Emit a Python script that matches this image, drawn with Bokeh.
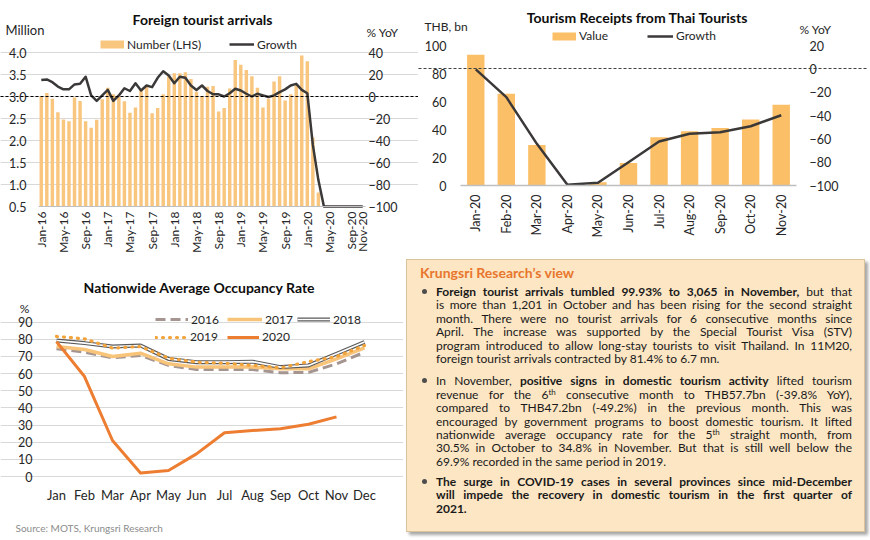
import math
from bokeh.plotting import figure
from bokeh.models import (Range1d, LinearAxis, FixedTicker, Label, Legend, LegendItem, Grid,
                          Div, PrintfTickFormatter, ColumnDataSource)
from bokeh.layouts import row, column
from bokeh.embed import file_html
from bokeh.resources import INLINE

FONT = "Lato"
TXT = "#262626"

# ---------------- data: foreign tourist arrivals ----------------
MONTHS = ["Jan", "Feb", "Mar", "Apr", "May", "Jun", "Jul", "Aug", "Sep", "Oct", "Nov", "Dec"]
arr_months = [m + "-" + y for y in ["16", "17", "18", "19", "20"] for m in MONTHS][:59]
arr_number = [3.00, 3.08, 2.95, 2.64, 2.48, 2.44, 2.98, 2.90, 2.44, 2.29, 2.47, 2.94,
              3.20, 3.05, 2.99, 2.89, 2.63, 2.75, 3.16, 3.24, 2.62, 2.74, 3.05, 3.46,
              3.53, 3.53, 3.55, 3.40, 3.11, 3.00, 3.22, 3.24, 2.66, 2.74, 3.18, 3.83,
              3.72, 3.60, 3.46, 3.20, 2.75, 2.95, 3.34, 3.46, 2.91, 3.05, 3.25, 3.93,
              3.80, 2.07, 0.82, 0.0, 0.0, 0.0, 0.0, 0.0, 0.0, 0.001, 0.003]
arr_growth = [15.0, 15.5, 13.0, 9.0, 6.5, 6.5, 11.0, 11.5, 18.0, 1.0, -4.0, 1.0,
              6.0, -4.0, 1.0, 7.5, 5.0, 12.0, 5.5, 10.0, 8.5, 17.0, 23.0, 19.0,
              12.0, 18.0, 17.0, 10.0, 6.0, 10.0, 5.0, 2.0, 2.0, 0.0, 3.0, 7.0,
              5.5, 2.5, 0.0, 2.5, 1.0, -0.5, 1.0, 4.0, 6.5, 10.0, 11.5, 6.0,
              3.0, -44.0, -76.0, -100.0, -100.0, -100.0, -100.0, -100.0, -100.0, -99.9, -99.9]
arr_tick_labels = ["Jan-16", "May-16", "Sep-16", "Jan-17", "May-17", "Sep-17", "Jan-18", "May-18",
                   "Sep-18", "Jan-19", "May-19", "Sep-19", "Jan-20", "May-20", "Sep-20", "Nov-20"]
arr_left_ticks = [0.5, 1.0, 1.5, 2.0, 2.5, 3.0, 3.5, 4.0]
arr_right_ticks = [-100, -80, -60, -40, -20, 0, 20, 40]

# ---------------- data: tourism receipts ----------------
rec_months = ["Jan-20", "Feb-20", "Mar-20", "Apr-20", "May-20", "Jun-20",
              "Jul-20", "Aug-20", "Sep-20", "Oct-20", "Nov-20"]
rec_value = [93.4, 65.5, 29.0, 0.4, 2.4, 16.0, 34.5, 38.8, 41.0, 47.2, 57.7]
rec_growth = [-0.5, -24.3, -64.3, -99.4, -97.7, -80.0, -62.3, -55.7, -54.3, -49.2, -39.8]
rec_left_ticks = [0, 20, 40, 60, 80, 100]
rec_right_ticks = [-100, -80, -60, -40, -20, 0, 20]

# ---------------- data: occupancy rate ----------------
occ_months = MONTHS
occ_2016 = [74.5, 72.5, 69.2, 70.6, 64.8, 62.4, 62.4, 62.4, 60.5, 60.7, 65.7, 72.5]
occ_2017 = [75.8, 74.1, 70.0, 71.9, 65.7, 63.8, 63.8, 63.8, 62.8, 62.8, 68.6, 75.0]
occ_2018 = [79.3, 77.8, 75.8, 76.4, 68.6, 66.7, 66.7, 67.0, 63.8, 64.8, 71.6, 78.4]
occ_2019 = [81.7, 80.3, 74.9, 75.8, 69.0, 66.7, 66.1, 64.8, 63.4, 67.0, 69.9, 76.4]
occ_2020 = [78.7, 58.3, 21.0, 2.0, 3.5, 13.2, 25.5, 26.8, 27.8, 30.5, 34.8]
occ_ticks = [0, 10, 20, 30, 40, 50, 60, 70, 80, 90]

# ---------------- text box ----------------
view_title = "Krungsri Research\u2019s view"
view_p1 = [
    "<b>Foreign tourist arrivals tumbled 99.93% to 3,065 in November,</b> but that",
    "is more than 1,201 in October and has been rising for the second straight",
    "month. There were no tourist arrivals for 6 consecutive months since",
    "April. The increase was supported by the Special Tourist Visa (STV)",
    "program introduced to allow long-stay tourists to visit Thailand. In 11M20,",
    "foreign tourist arrivals contracted by 81.4% to 6.7 mn.",
]
view_p2 = [
    "In November, <b>positive signs in domestic tourism activity</b> lifted tourism",
    "revenue for the 6<sup>th</sup> consecutive month to THB57.7bn (-39.8% YoY),",
    "compared to THB47.2bn (-49.2%) in the previous month. This was",
    "encouraged by government programs to boost domestic tourism. It lifted",
    "nationwide average occupancy rate for the 5<sup>th</sup> straight month, from",
    "30.5% in October to 34.8% in November. But that is still well below the",
    "69.9% recorded in the same period in 2019.",
]
view_p3 = [
    "<b>The surge in COVID-19 cases in several provinces since mid-December</b>",
    "<b>will impede the recovery in domestic tourism in the first quarter of</b>",
    "<b>2021.</b>",
]

BAR1 = "#F8C67E"
BAR2 = "#FBBF68"
LINE = "#3B3838"
C2016 = "#A59590"
C2017 = "#F8C47A"
C2018 = "#595959"
C2019 = "#F2A33A"
C2020 = "#ED7D31"


def ext_range(p0, p1, d0, d1, c0, c1):
    """Range whose values d0/d1 sit at pixels p0/p1 of a frame spanning pixels c0..c1."""
    k = (d1 - d0) / (p1 - p0)
    return Range1d(d0 + (c0 - p0) * k, d0 + (c1 - p0) * k)


def style_axis(ax, size="12px", standoff=8):
    ax.axis_line_color = None
    ax.major_tick_line_color = None
    ax.minor_tick_line_color = None
    ax.major_tick_out = 0
    ax.major_tick_in = 0
    ax.minor_tick_out = 0
    ax.minor_tick_in = 0
    ax.major_label_text_font = FONT
    ax.major_label_text_font_size = size
    ax.major_label_text_color = TXT
    ax.major_label_standoff = standoff
    return ax


class Canvas:
    def __init__(self, p, ox, oy, H):
        self.p, self.ox, self.oy, self.H = p, ox, oy, H

    def text(self, text, x, y, size, bold=False, align="left", color=TXT):
        self.p.add_layout(Label(x=x - self.ox, y=self.H - (y - self.oy), x_units="screen", y_units="screen",
                                text=text, text_font=FONT, text_font_size=f"{size}px",
                                text_font_style="bold" if bold else "normal",
                                text_align=align, text_baseline="middle", text_color=color))

    def legend(self, label, renderers, x, yc, gw):
        leg = Legend(items=[LegendItem(label=label, renderers=renderers)],
                     location=(x - self.ox, self.H - (yc - self.oy) - 8), orientation="horizontal",
                     padding=0, margin=0, spacing=0, glyph_width=gw, glyph_height=16,
                     label_height=16, label_standoff=3, label_text_font=FONT,
                     label_text_font_size="12px", label_text_color=TXT,
                     background_fill_alpha=0, border_line_alpha=0)
        self.p.add_layout(leg)


def base_fig(W, H, xr, yr):
    p = figure(width=W, height=H, x_range=xr, y_range=yr, output_backend="svg", toolbar_location=None,
               x_axis_location=None, y_axis_location=None, frame_align=False,
               min_border=0, min_border_left=0, min_border_right=0, min_border_top=0, min_border_bottom=0)
    p.title.visible = False
    p.outline_line_color = None
    p.border_fill_color = "white"
    p.background_fill_color = "white"
    p.xgrid.visible = False
    p.ygrid.visible = False
    return p


def swatch(p, color):
    # legend-only proxy: a thick line with no drawable point
    return p.line(x="x", y="y", source=ColumnDataSource(dict(x=[0.0], y=[float("nan")])),
                  line_color=color, line_width=8)


# ================= chart 1 : canvas (0,0) 418x258, plot area x 38..365, y 52..206 =================
W1, H1 = 418, 258
x1a, x1b = -0.5, len(arr_months) - 0.5
ymin1, ymax1 = arr_left_ticks[0], arr_left_ticks[-1]
gmin1, gmax1 = arr_right_ticks[0], arr_right_ticks[-1]
p1 = base_fig(W1, H1, ext_range(38, 365, x1a, x1b, 0, W1), ext_range(206, 52, ymin1, ymax1, H1, 0))
p1.extra_y_ranges = {"g": ext_range(206, 52, gmin1, gmax1, H1, 0)}
c1 = Canvas(p1, 0, 0, H1)
arr_x = list(range(len(arr_months)))
p1.add_layout(Grid(dimension=1, ticker=FixedTicker(ticks=arr_left_ticks[1:]), bounds=(x1a, x1b),
                   grid_line_color="#D9D9D9"))
p1.vbar(x=arr_x, top=[max(v, ymin1) for v in arr_number], bottom=ymin1, width=0.62,
        fill_color=BAR1, line_color=None)
p1.add_layout(Grid(dimension=1, ticker=FixedTicker(ticks=[0]), y_range_name="g", bounds=(x1a, x1b),
                   grid_line_color="#000000", grid_line_dash="3 2", level="annotation"))
g1 = p1.line(arr_x, arr_growth, y_range_name="g", line_color=LINE, line_width=2.5, line_join="round")
sw1 = swatch(p1, BAR1)

ax = style_axis(LinearAxis(ticker=FixedTicker(ticks=arr_left_ticks), formatter=PrintfTickFormatter(format="%.1f"),
                           fixed_location=x1a), "12.5px", 12)
p1.add_layout(ax, "left")
ax = style_axis(LinearAxis(y_range_name="g", ticker=FixedTicker(ticks=arr_right_ticks), fixed_location=x1b),
                "12.5px", 3)
p1.add_layout(ax, "right")
ax = style_axis(LinearAxis(ticker=FixedTicker(ticks=[arr_months.index(t) for t in arr_tick_labels]),
                           fixed_location=ymin1, bounds=(x1a, x1b)), "12px", 5)
ax.major_label_overrides = {arr_months.index(t): t for t in arr_tick_labels}
ax.axis_line_color = "#BFBFBF"
ax.major_label_orientation = math.pi / 2
p1.add_layout(ax, "below")

c1.text("Foreign tourist arrivals", 202, 18.5, 14, bold=True, align="center", color="#0D0D0D")
c1.text("Million", 5, 29.5, 13)
c1.text("% YoY", 366, 32, 12)
c1.legend("Number (LHS)", [sw1], 100, 44, 24)
c1.legend("Growth", [g1], 229, 44, 25)

# ================= chart 2 : canvas (418,0) 450x258, plot area x 460..796, y 45..185 =================
W2, H2 = 450, 258
rec_x = list(range(len(rec_months)))
x2a, x2b = -0.5, len(rec_months) - 0.5
p2 = base_fig(W2, H2, ext_range(42, 378, x2a, x2b, 0, W2),
              ext_range(185, 45, rec_left_ticks[0], rec_left_ticks[-1], H2, 0))
p2.extra_y_ranges = {"g": ext_range(185, 45, rec_right_ticks[0], rec_right_ticks[-1], H2, 0)}
c2 = Canvas(p2, 418, 0, H2)
p2.vbar(x=rec_x, top=rec_value, bottom=rec_left_ticks[0], width=0.57, fill_color=BAR2, line_color=None)
p2.add_layout(Grid(dimension=1, ticker=FixedTicker(ticks=[0]), y_range_name="g", bounds=(x2a, x2b),
                   grid_line_color="#404040", grid_line_dash="3 2", level="annotation"))
g2 = p2.line(rec_x, rec_growth, y_range_name="g", line_color=LINE, line_width=2.5, line_join="round")
sw2 = swatch(p2, BAR2)

ax = style_axis(LinearAxis(ticker=FixedTicker(ticks=rec_left_ticks), fixed_location=x2a), "12.5px", 14)
p2.add_layout(ax, "left")
ax = style_axis(LinearAxis(y_range_name="g", ticker=FixedTicker(ticks=rec_right_ticks), fixed_location=x2b),
                "12.5px", 13)
p2.add_layout(ax, "right")
ax = style_axis(LinearAxis(ticker=FixedTicker(ticks=rec_x), fixed_location=rec_left_ticks[0],
                           bounds=(x2a, x2b)), "12.5px", 9)
ax.major_label_overrides = {i: m for i, m in zip(rec_x, rec_months)}
ax.axis_line_color = "#BFBFBF"
ax.axis_line_width = 1.5
ax.major_label_orientation = math.pi / 2
p2.add_layout(ax, "below")

c2.text("Tourism Receipts from Thai Tourists", 637, 17, 14, bold=True, align="center", color="#0D0D0D")
c2.text("THB, bn", 424, 25.5, 12)
c2.text("% YoY", 799, 28.5, 12)
c2.legend("Value", [sw2], 552, 35.5, 24)
c2.legend("Growth", [g2], 647, 35.5, 26)

# ================= chart 3 : canvas (0,258) 403x280, plot area x 42..378, y 321.7..476 =================
W3, H3 = 403, 280
occ_x = list(range(len(occ_months)))
x3a, x3b = -0.5, len(occ_months) - 0.5
p3 = base_fig(W3, H3, ext_range(42, 378, x3a, x3b, 0, W3),
              ext_range(476 - 258, 321.7 - 258, occ_ticks[0], occ_ticks[-1], H3, 0))
c3 = Canvas(p3, 0, 258, H3)
p3.add_layout(Grid(dimension=1, ticker=FixedTicker(ticks=occ_ticks), bounds=(x3a, x3b),
                   grid_line_color="#D9D9D9"))
r16 = p3.line(occ_x, occ_2016, line_color=C2016, line_width=3, line_dash="10 5")
r17 = p3.line(occ_x, occ_2017, line_color=C2017, line_width=3.5)
r18a = p3.line(occ_x, occ_2018, line_color=C2018, line_width=4)
r18b = p3.line(occ_x, occ_2018, line_color="white", line_width=1.6)
r19 = p3.line(occ_x, occ_2019, line_color=C2019, line_width=3.2, line_dash="1 6", line_cap="round")
r20 = p3.line(occ_x[:len(occ_2020)], occ_2020, line_color=C2020, line_width=3, line_join="round")

ax = style_axis(LinearAxis(ticker=FixedTicker(ticks=occ_ticks), fixed_location=x3a), "12.5px", 10)
p3.add_layout(ax, "left")
ax = style_axis(LinearAxis(ticker=FixedTicker(ticks=occ_x), fixed_location=occ_ticks[0],
                           bounds=(x3a, x3b)), "13px", 10)
ax.major_label_overrides = {i: m for i, m in zip(occ_x, occ_months)}
p3.add_layout(ax, "below")

c3.text("Nationwide Average Occupancy Rate", 199, 286.5, 14, bold=True, align="center", color="#0D0D0D")
c3.text("%", 24, 307.5, 12, align="center")
c3.text("Source: MOTS, Krungsri Research", 15, 527, 10, color="#8C8C8C")
c3.legend("2016", [r16], 155, 319, 33)
c3.legend("2017", [r17], 227, 319, 35)
c3.legend("2018", [r18a, r18b], 297, 319, 33)
c3.legend("2019", [r19], 155, 336.7, 32)
c3.legend("2020", [r20], 227, 336.7, 32)

# ================= text box : (403,258) 465x280 =================
JUST = "height:13.4px;line-height:13.4px;white-space:nowrap;text-align:justify;text-align-last:justify;"
LAST = "height:13.4px;line-height:13.4px;white-space:nowrap;text-align:left;"
SUP = "<sup style='font-size:8px;line-height:0;vertical-align:4px'>"


def para(lines, mb):
    out = [f"<div style='position:relative;margin:0 0 {mb}px 16px;width:416px;'>",
           "<span style='position:absolute;left:-14px;top:4px;width:5px;height:5px;"
           "border-radius:50%;background:#4D4D4D;display:block'></span>"]
    for i, ln in enumerate(lines):
        st = LAST if i == len(lines) - 1 else JUST
        out.append(f"<div style='{st}'>{ln.replace('<sup>', SUP)}</div>")
    out.append("</div>")
    return "".join(out)


box_html = (
    "<div style='width:459px;height:273px;margin:1px 0 0 3px;box-sizing:border-box;"
    "background:#FCE6C4;border:1px solid #D9C39B;box-shadow:3px 3px 3px rgba(0,0,0,0.35);"
    f"font-family:{FONT};font-size:12px;color:#1A1A1A;padding:4px 0 0 13px;'>"
    f"<div style='font-size:14px;font-weight:bold;color:#E8762D;line-height:18px;height:18px;"
    f"margin-bottom:3px'>{view_title}</div>"
    + para(view_p1, 9) + para(view_p2, 7) + para(view_p3, 0) +
    "</div>"
)
box = Div(text=box_html, width=465, height=280, margin=0)

layout = column(row(p1, p2), row(p3, box))
open("out.html", "w").write(file_html(layout, INLINE))
